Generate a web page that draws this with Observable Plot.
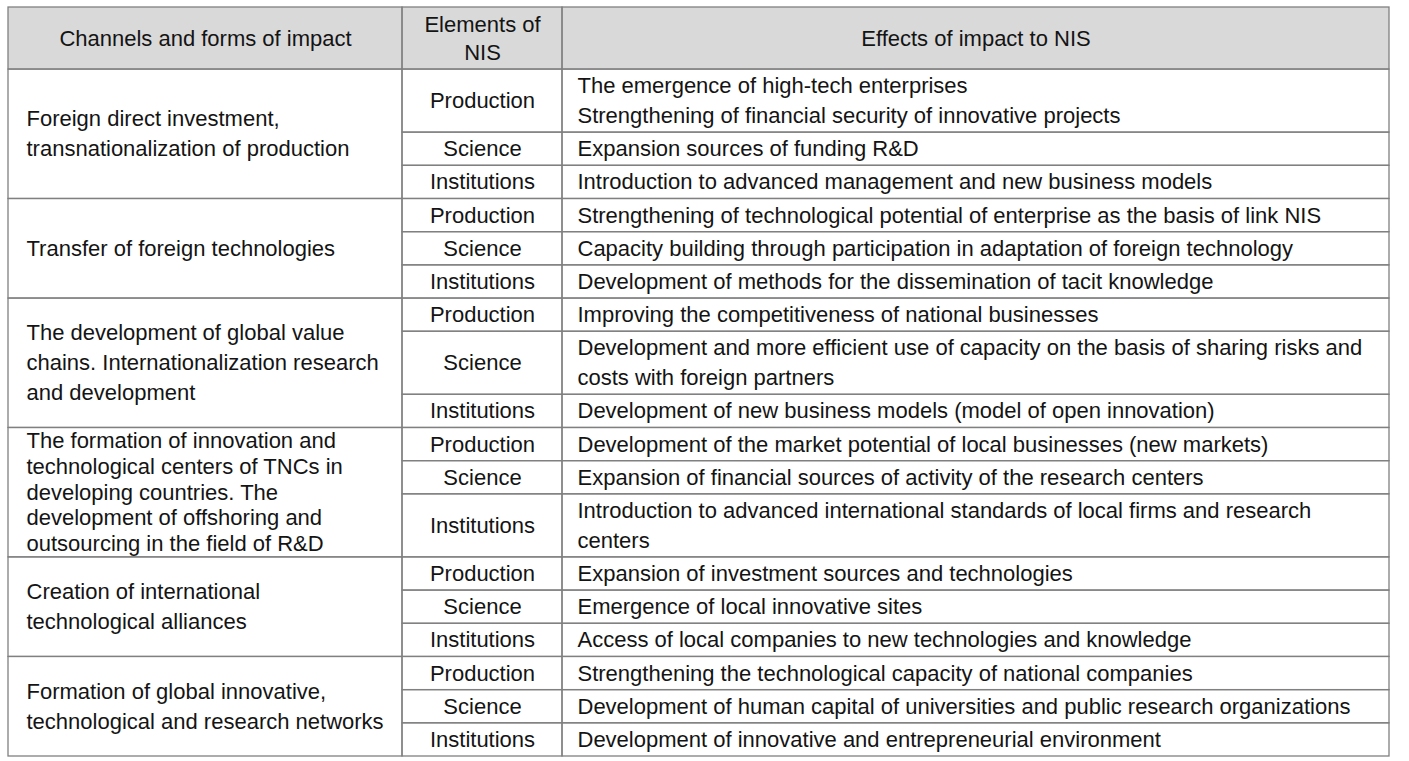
<!DOCTYPE html>
<html>
<head>
<meta charset="utf-8">
<script src="https://cdn.jsdelivr.net/npm/d3@7"></script>
<script src="https://cdn.jsdelivr.net/npm/@observablehq/plot@0.6"></script>
<style>
  html, body { margin: 0; padding: 0; background: #fff; overflow: hidden; }
  svg { display: block; }
</style>
</head>
<body>
<div id="chart"></div>
<script>
// ---------- DATA ----------
const headers = ["Channels and forms of impact", "Elements of\nNIS", "Effects of impact to NIS"];

const channels = [
  "Foreign direct investment,\ntransnationalization of production",
  "Transfer of foreign technologies",
  "The development of global value\nchains. Internationalization research\nand development",
  "The formation of innovation and\ntechnological centers of TNCs in\ndeveloping countries. The\ndevelopment of offshoring and\noutsourcing in the field of R&D",
  "Creation of international\ntechnological alliances",
  "Formation of global innovative,\ntechnological and research networks"
];

const elements = ["Production", "Science", "Institutions"];

const effects = [
  "The emergence of high-tech enterprises\nStrengthening of financial security of innovative projects",
  "Expansion sources of funding R&D",
  "Introduction to advanced management and new business models",
  "Strengthening of technological potential of enterprise as the basis of link NIS",
  "Capacity building through participation in adaptation of foreign technology",
  "Development of methods for the dissemination of tacit knowledge",
  "Improving the competitiveness of national businesses",
  "Development and more efficient use of capacity on the basis of sharing risks and\ncosts with foreign partners",
  "Development of new business models (model of open innovation)",
  "Development of the market potential of local businesses (new markets)",
  "Expansion of financial sources of activity of the research centers",
  "Introduction to advanced international standards of local firms and research\ncenters",
  "Expansion of investment sources and technologies",
  "Emergence of local innovative sites",
  "Access of local companies to new technologies and knowledge",
  "Strengthening the technological capacity of national companies",
  "Development of human capital of universities and public research organizations",
  "Development of innovative and entrepreneurial environment"
];

// ---------- LAYOUT (not data) ----------
const colEdges = [0, 394, 554, 1381];   // x units
const HEADER_UNITS = 1.87;               // header height in row units
const EXTRA_LINE = 0.9;                  // extra row units per additional text line
const FONT = 22;
const nLines = s => s.split("\n").length;
// Plot scales the 0.32em baseline offset by lineHeight for multi-line text; compensate
const fixDy = lh => -0.32 * (lh - 1) * FONT;

// Build rows from data
const rows = [];
let yCursor = HEADER_UNITS;
effects.forEach((eff, i) => {
  const h = 1 + (nLines(eff) - 1) * EXTRA_LINE;
  rows.push({group: Math.floor(i / 3), element: elements[i % 3], effect: eff, y1: yCursor, y2: yCursor + h});
  yCursor += h;
});
const total = yCursor;

const groups = channels.map((c, g) => {
  const rs = rows.filter(r => r.group === g);
  return {channel: c, g, y1: rs[0].y1, y2: rs[rs.length - 1].y2};
});

const headerCells = headers.map((h, i) => ({text: h, x1: colEdges[i], x2: colEdges[i + 1], y1: 0, y2: HEADER_UNITS}));
const elementCells = rows.map(r => ({...r, x1: colEdges[1], x2: colEdges[2]}));
const effectCells = rows.map(r => ({...r, x1: colEdges[2], x2: colEdges[3]}));
const groupCells = groups.map(g => ({...g, x1: colEdges[0], x2: colEdges[1]}));

const stroke = "#808080";
const sw = 1.3;
const ink = "#141414";
const cx = d => (d.x1 + d.x2) / 2;
const cy = d => (d.y1 + d.y2) / 2;
const cellRect = (data) => Plot.rect(data, {x1: "x1", x2: "x2", y1: "y1", y2: "y2", fill: "none", stroke, strokeWidth: sw});

function textMarks(data, field, xf, anchor, lh) {
  const single = data.filter(d => nLines(d[field]) === 1);
  const multi = data.filter(d => nLines(d[field]) > 1);
  const common = {x: xf, y: cy, text: field, fontSize: FONT, fill: ink, textAnchor: anchor};
  return [
    Plot.text(single, common),
    Plot.text(multi, {...common, lineHeight: lh, dy: fixDy(lh)})
  ];
}

const chart = Plot.plot({
  width: 1409,
  height: 761,
  marginLeft: 8,
  marginRight: 20,
  marginTop: 7,
  marginBottom: 5,
  x: {domain: [0, colEdges[3]], axis: null},
  y: {domain: [0, total], reverse: true, axis: null},
  style: {fontFamily: "'Liberation Sans', Arial, Helvetica, sans-serif", background: "#fff"},
  marks: [
    Plot.rect(headerCells, {x1: "x1", x2: "x2", y1: "y1", y2: "y2", fill: "#d9d9d9"}),
    cellRect(headerCells),
    cellRect(groupCells),
    cellRect(elementCells),
    cellRect(effectCells),
    ...textMarks(headerCells, "text", cx, "middle", 1.27),
    ...textMarks(groupCells.filter(d => nLines(d.channel) < 5), "channel", d => d.x1 + 18, "start", 1.36),
    ...textMarks(groupCells.filter(d => nLines(d.channel) >= 5), "channel", d => d.x1 + 18, "start", 1.17),
    ...textMarks(elementCells, "element", cx, "middle", 1.36),
    ...textMarks(effectCells, "effect", d => d.x1 + 15, "start", 1.36)
  ]
});

document.getElementById("chart").appendChild(chart);
</script>
</body>
</html>
